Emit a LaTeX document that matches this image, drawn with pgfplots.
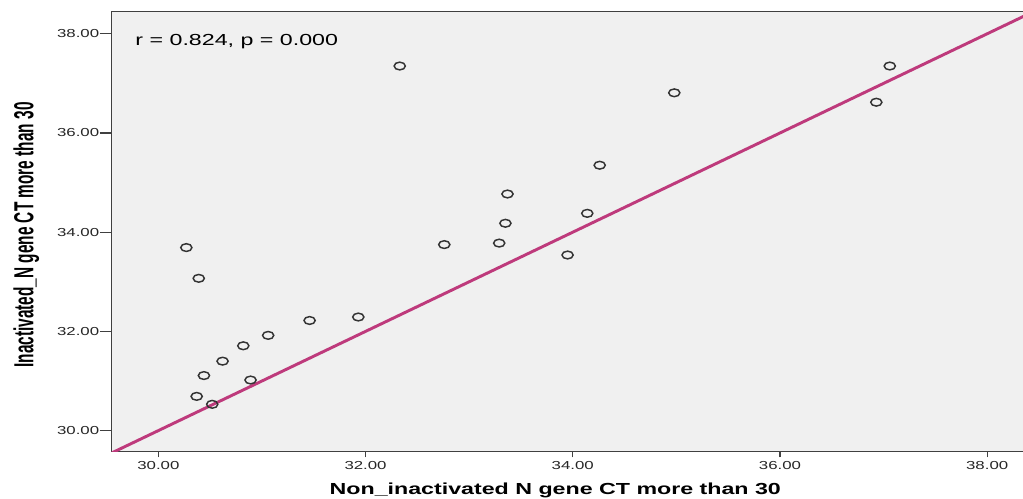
\documentclass[border=0pt]{standalone}
\usepackage{pgfplots}
\pgfplotsset{compat=1.18}
\usepackage{fontspec}
\setmainfont{Liberation Sans}
\definecolor{bgc}{HTML}{F0F0F0}
\definecolor{fitc}{RGB}{190,58,124}
\definecolor{axc}{HTML}{404040}
\begin{document}
\begin{tikzpicture}
\useasboundingbox (-83.8pt,-35.6pt) rectangle (683.5pt,338.6pt);
\begin{axis}[
  at={(0,0)}, anchor=south west,
  scale only axis, width=684.6pt, height=330pt,
  xmin=29.55, xmax=38.36, ymin=29.58, ymax=38.45,
  xtick={30,32,34,36,38}, ytick={30,32,34,36,38},
  axis background/.style={fill=bgc},
  axis line style={axc, line width=0.9pt},
  tick align=outside,
  tick style={axc, line width=0.9pt},
  x tick style={/pgfplots/major tick length=4.5pt},
  y tick style={/pgfplots/major tick length=9pt},
  xtick pos=bottom, ytick pos=left,
  /pgf/number format/assume math mode=true,
  /pgf/number format/.cd, fixed, fixed zerofill, precision=2, /pgfplots/.cd,
  ticklabel style={font=\fontsize{8.7}{10}\selectfont, text=black!85, xscale=1.45},
  xlabel={\scalebox{1.45}[1]{\bfseries Non\_inactivated N gene CT more than 30}},
  ylabel={\scalebox{0.81}[1.45]{\bfseries Inactivated\_N gene CT more than 30}},
  xlabel style={font=\fontsize{12}{14}\selectfont, at={(axis description cs:0.486,-0.0988)}, anchor=base, inner sep=0pt},
  ylabel style={font=\fontsize{14.25}{16}\selectfont, at={(axis description cs:-0.1081,0.492)}, anchor=north, inner sep=0pt},
  clip=true,
]
\addplot[fitc, line width=2.2pt] coordinates {(29.4,29.4) (38.6,38.6)};
\addplot[only marks, mark=o, mark size=2.9pt,
  mark options={xscale=1.45, line width=1.1pt, draw=black!80}] table {
x y
30.27 33.69
30.39 33.07
31.46 32.22
31.93 32.29
31.06 31.92
30.82 31.71
30.62 31.40
30.44 31.11
30.89 31.02
30.37 30.69
30.52 30.53
32.76 33.75
32.33 37.35
34.98 36.81
34.26 35.35
33.37 34.77
33.35 34.18
34.14 34.38
33.29 33.78
33.95 33.54
37.06 37.35
36.93 36.62
};
\node[anchor=base west, inner sep=0pt, font=\fontsize{12}{14}\selectfont, xscale=1.45]
  at (axis description cs:0.0256,0.922) {r = 0.824, p = 0.000};
\end{axis}
\end{tikzpicture}
\end{document}
